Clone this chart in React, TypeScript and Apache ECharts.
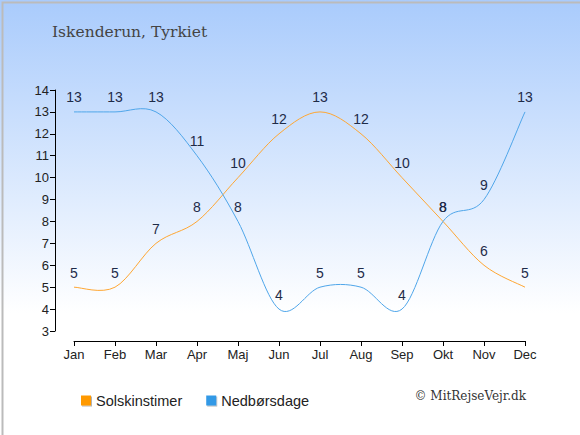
import React, { useEffect, useRef } from "react";
import * as echarts from "echarts";

const months = ["Jan", "Feb", "Mar", "Apr", "Maj", "Jun", "Jul", "Aug", "Sep", "Okt", "Nov", "Dec"];
const sunHours = [5, 5, 7, 8, 10, 12, 13, 12, 10, 8, 6, 5];
const rainDays = [13, 13, 13, 11, 8, 4, 5, 5, 4, 8, 9, 13];
const yTicks = { min: 3, max: 14, interval: 1 };

function splineSeries(name: string, values: number[], color: string) {
  return {
    name,
    type: "custom",
    coordinateSystem: "cartesian2d",
    silent: true,
    z: 2,
    encode: { x: 0, y: 1 },
    data: values.map((v, i) => [i, v]),
    renderItem: (params: any, api: any) => {
      const i = params.dataIndex;
      const n = values.length;
      if (i >= n - 1) return null;
      const pt = (k: number) => {
        const kk = Math.max(0, Math.min(n - 1, k));
        return api.coord([kk, values[kk]]);
      };
      const p0 = pt(i - 1);
      const p1 = pt(i);
      const p2 = pt(i + 1);
      const p3 = pt(i + 2);
      return {
        type: "bezierCurve",
        shape: {
          x1: p1[0],
          y1: p1[1],
          x2: p2[0],
          y2: p2[1],
          cpx1: p1[0] + (p2[0] - p0[0]) / 6,
          cpy1: p1[1] + (p2[1] - p0[1]) / 6,
          cpx2: p2[0] - (p3[0] - p1[0]) / 6,
          cpy2: p2[1] - (p3[1] - p1[1]) / 6,
        },
        style: { stroke: color, fill: "none", lineWidth: 1 },
      };
    },
  };
}

export default function App() {
  const ref = useRef<HTMLDivElement>(null);
  useEffect(() => {
    document.body.style.margin = "0";
    const chart = echarts.init(ref.current!, null, { renderer: "svg" });
    const labelStyle = {
      show: true,
      position: "top" as const,
      distance: 7,
      color: "#1e2b48",
      fontSize: 14,
      fontFamily: "Liberation Sans, Arial, sans-serif",
    };
    chart.setOption({
      animation: false,
      backgroundColor: new echarts.graphic.LinearGradient(0, 0, 0, 1, [
        { offset: 0, color: "#a9cbfc" },
        { offset: 0.72, color: "#ffffff" },
        { offset: 1, color: "#ffffff" },
      ]),
      title: {
        text: "Iskenderun, Tyrkiet",
        left: 47,
        top: 19,
        textStyle: {
          fontFamily: "DejaVu Serif, serif",
          fontWeight: "normal",
          fontSize: 15.5,
          color: "#444",
        },
      },
      legend: {
        left: 76,
        top: 388,
        itemWidth: 10,
        itemHeight: 10,
        itemGap: 24,
        icon: "rect",
        textStyle: {
          fontFamily: "Liberation Sans, Arial, sans-serif",
          fontSize: 14.5,
          color: "#222",
        },
        data: [
          { name: "Solskinstimer", itemStyle: { color: "#ff9900", shadowColor: "rgba(0,0,0,0.3)", shadowOffsetX: 1, shadowOffsetY: 1, shadowBlur: 1 } },
          { name: "Nedbørsdage", itemStyle: { color: "#3399e6", shadowColor: "rgba(0,0,0,0.3)", shadowOffsetX: 1, shadowOffsetY: 1, shadowBlur: 1 } },
        ],
      },
      graphic: [
        {
          type: "text",
          right: 54,
          top: 390,
          style: {
            text: "© MitRejseVejr.dk",
            font: "12px 'DejaVu Serif', serif",
            fill: "#333",
          },
        },
        {
          type: "rect",
          left: 0,
          top: 0,
          shape: { width: 579, height: 434 },
          style: { fill: "none", stroke: "#bbb", lineWidth: 2 },
        },
      ],
      grid: { left: 74, right: 55, top: 90, bottom: 104 },
      xAxis: {
        type: "category",
        data: months,
        boundaryGap: false,
        offset: 10,
        axisLine: { lineStyle: { color: "#000", width: 1 } },
        axisTick: { alignWithLabel: true, length: 5, lineStyle: { color: "#000" } },
        axisLabel: {
          color: "#222",
          fontSize: 13,
          fontFamily: "Liberation Sans, Arial, sans-serif",
          margin: 7,
        },
        splitLine: { show: false },
      },
      yAxis: {
        type: "value",
        min: yTicks.min,
        max: yTicks.max,
        interval: yTicks.interval,
        offset: 19,
        axisLine: { show: true, lineStyle: { color: "#000", width: 1 } },
        axisTick: { show: true, length: 5, lineStyle: { color: "#000" } },
        axisLabel: {
          color: "#222",
          fontSize: 13,
          fontFamily: "Liberation Sans, Arial, sans-serif",
          margin: 6,
        },
        splitLine: { show: false },
      },
      series: [
        splineSeries("Solskinstimer", sunHours, "#ffa733"),
        splineSeries("Nedbørsdage", rainDays, "#4fa6ea"),
        {
          name: "Solskinstimer",
          type: "line",
          data: sunHours,
          symbol: "circle",
          symbolSize: 1,
          showSymbol: true,
          lineStyle: { opacity: 0, width: 0 },
          itemStyle: { color: "rgba(0,0,0,0)" },
          label: labelStyle,
          z: 3,
        },
        {
          name: "Nedbørsdage",
          type: "line",
          data: rainDays,
          symbol: "circle",
          symbolSize: 1,
          showSymbol: true,
          lineStyle: { opacity: 0, width: 0 },
          itemStyle: { color: "rgba(0,0,0,0)" },
          label: labelStyle,
          z: 3,
        },
      ],
    });
    return () => chart.dispose();
  }, []);
  return <div ref={ref} style={{ width: 580, height: 435 }} />;
}
